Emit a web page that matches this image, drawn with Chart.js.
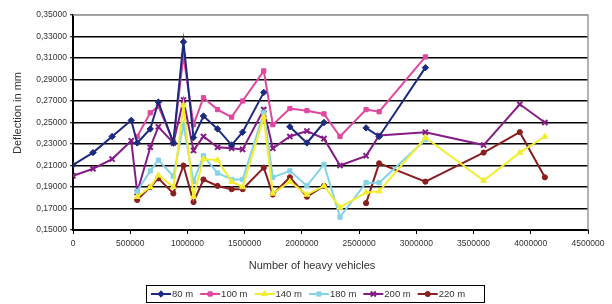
<!DOCTYPE html>
<html><head><meta charset="utf-8">
<script src="https://cdn.jsdelivr.net/npm/chart.js@4/dist/chart.umd.min.js"></script>
<style>html,body{margin:0;padding:0;background:#fff}</style>
</head><body>
<canvas id="c" width="612" height="304"></canvas>
<script>
// Number of heavy vehicles at each measurement
const vehicles = [0, 175000, 342000, 509000, 561000, 675000, 746000, 877000, 965000, 1053000, 1140000, 1263000, 1386000, 1482000, 1667000, 1746000, 1895000, 2044000, 2193000, 2333000, 2561000, 2675000, 3079000, 3588000, 3904000, 4123000];
const seriesLabels = ['80 m', '100 m', '140 m', '180 m', '200 m', '220 m'];
const d80  = [0.2105, 0.222, 0.237, 0.252, 0.231, 0.244, 0.269, 0.231, 0.325, 0.236, 0.256, 0.244, 0.229, 0.241, 0.278, null, 0.246, 0.231, 0.250, null, 0.245, 0.237, 0.301, null, null, null];
const d100 = [null, null, null, null, 0.237, 0.259, 0.265, 0.232, 0.312, 0.248, 0.273, 0.262, 0.255, 0.270, 0.298, 0.248, 0.263, 0.261, 0.258, 0.237, 0.262, 0.260, 0.311, null, null, null];
const d140 = [null, null, null, null, 0.181, 0.190, 0.201, 0.190, 0.266, 0.181, 0.216, 0.215, 0.195, 0.190, 0.255, 0.184, 0.195, 0.183, 0.191, 0.171, 0.185, 0.186, 0.236, 0.196, 0.222, 0.237];
const d180 = [null, null, null, null, 0.186, 0.205, 0.215, 0.200, 0.248, 0.195, 0.219, 0.203, 0.197, 0.197, 0.259, 0.199, 0.205, 0.191, 0.211, 0.162, 0.194, 0.194, 0.234, null, null, null];
const d200 = [0.2005, 0.207, 0.216, 0.233, 0.185, 0.227, 0.246, 0.231, 0.271, 0.224, 0.237, 0.227, 0.226, 0.225, 0.262, 0.226, 0.237, 0.242, 0.235, 0.210, 0.219, 0.238, 0.241, 0.229, 0.267, 0.250];
const d220 = [null, null, null, null, 0.178, 0.190, 0.198, 0.184, 0.210, 0.176, 0.197, 0.191, 0.188, 0.188, 0.208, 0.183, 0.199, 0.181, 0.191, null, 0.175, 0.212, 0.195, 0.222, 0.241, 0.199];
const xMin = 0, xMax = 4500000, xStep = 500000;
const yMin = 0.15, yMax = 0.35, yStep = 0.02;
const xTitle = 'Number of heavy vehicles';
const yTitle = 'Deflection in mm';

const seriesValues = [d80, d100, d140, d180, d200, d220];
const colors = ['#1b2a7e', '#e0479f', '#f2ee2e', '#84d3e6', '#861d86', '#8a1f1f'];
const styles = ['rectRot', 'rect', 'triangle', 'rect', 'crossRot', 'circle'];
const radii = [3.2, 3, 3.4, 3, 3.6, 2.6];

const datasets = seriesValues.map((vals, i) => ({
  label: seriesLabels[i],
  data: vehicles.map((v, j) => ({x: v, y: vals[j]})),
  borderColor: colors[i],
  backgroundColor: colors[i],
  pointBackgroundColor: colors[i],
  pointBorderColor: colors[i],
  pointStyle: styles[i],
  pointRadius: radii[i],
  pointBorderWidth: styles[i] === 'crossRot' ? 2 : 1,
  borderWidth: 2,
  tension: 0,
  spanGaps: false
}));

const FONT = 'Liberation Sans';

const framePlugin = {
  id: 'frame',
  beforeDatasetsDraw(chart) {
    const a = chart.chartArea, ctx = chart.ctx;
    ctx.save();
    ctx.strokeStyle = '#9a9a9a';
    ctx.lineWidth = 1.5;
    ctx.beginPath();
    ctx.moveTo(a.left, a.top);
    ctx.lineTo(a.right, a.top);
    ctx.lineTo(a.right, a.bottom);
    ctx.stroke();
    ctx.restore();
  }
};

const textPlugin = {
  id: 'titlesLegend',
  afterDraw(chart) {
    const ctx = chart.ctx;
    ctx.save();
    // axis titles
    ctx.fillStyle = '#333';
    ctx.font = '11px "' + FONT + '"';
    ctx.textAlign = 'center';
    ctx.textBaseline = 'middle';
    ctx.fillText(xTitle, 312, 266);
    ctx.save();
    ctx.translate(18, 113);
    ctx.rotate(-Math.PI / 2);
    ctx.fillText(yTitle, 0, 0);
    ctx.restore();
    // legend
    const L = 146, T = 285, R = 484, B = 302;
    ctx.strokeStyle = '#000';
    ctx.lineWidth = 1;
    ctx.strokeRect(L + 0.5, T + 0.5, R - L, B - T);
    ctx.font = '9.5px "' + FONT + '"';
    ctx.textAlign = 'left';
    ctx.textBaseline = 'middle';
    const y = (T + B) / 2 + 0.5;
    let x = 151;
    chart.data.datasets.forEach(ds => {
      ctx.strokeStyle = ds.borderColor;
      ctx.lineWidth = 2;
      ctx.beginPath(); ctx.moveTo(x, y); ctx.lineTo(x + 20, y); ctx.stroke();
      ctx.fillStyle = ds.pointBackgroundColor;
      ctx.strokeStyle = ds.pointBorderColor;
      ctx.lineWidth = ds.pointBorderWidth;
      Chart.helpers.drawPoint(ctx, {pointStyle: ds.pointStyle, radius: ds.pointRadius, rotation: 0, borderWidth: ds.pointBorderWidth}, x + 10, y);
      ctx.fillStyle = '#333';
      ctx.fillText(ds.label, x + 21, y);
      x += 21 + ctx.measureText(ds.label).width + 7;
    });
    ctx.restore();
  }
};

new Chart(document.getElementById('c'), {
  type: 'line',
  data: {datasets},
  options: {
    responsive: false,
    animation: false,
    layout: {padding: {left: 0, right: 24, top: 15, bottom: 24}},
    plugins: {legend: {display: false}, tooltip: {enabled: false}},
    scales: {
      x: {
        type: 'linear', min: xMin, max: xMax,
        afterFit(s) { s.height = 50; },
        ticks: {stepSize: xStep, color: '#333', font: {family: FONT, size: 8.5}, padding: 5, maxRotation: 0,
          callback: v => String(v)},
        grid: {drawOnChartArea: false, drawTicks: true, tickLength: 4, tickColor: '#000', tickWidth: 1},
        border: {display: true, color: '#000', width: 2},
        title: {display: false}
      },
      y: {
        min: yMin, max: yMax,
        afterFit(s) { s.width = 73; },
        ticks: {stepSize: yStep, color: '#333', font: {family: FONT, size: 8.5}, padding: 3,
          callback: v => v.toFixed(5).replace('.', ',')},
        grid: {color: c => (c.tick && Math.abs(c.tick.value - yMax) < 1e-9) ? '#9a9a9a' : '#000', lineWidth: 1.5, drawTicks: true, tickLength: 3, tickColor: '#000', tickWidth: 1},
        border: {display: true, color: '#000', width: 2},
        title: {display: false}
      }
    }
  },
  plugins: [framePlugin, textPlugin]
});
</script>
</body></html>
